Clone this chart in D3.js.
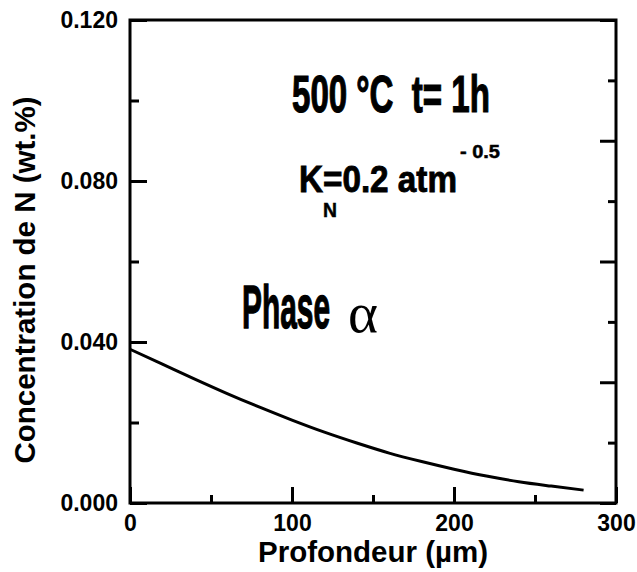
<!DOCTYPE html>
<html>
<head>
<meta charset="utf-8">
<script src="https://cdn.jsdelivr.net/npm/d3@7"></script>
<style>
  html, body { margin: 0; padding: 0; background: #fff; }
  svg { display: block; }
</style>
</head>
<body>
<svg id="chart" width="637" height="572"></svg>
<script>
// Nitrogen profile: depth (µm) vs concentration (wt.%)
const depth = [0, 20, 40, 60, 80, 100, 120, 140, 160, 180, 200, 220, 240, 260, 280];
const concentration = [0.0382, 0.0345, 0.0308, 0.0272, 0.0238, 0.0206, 0.0176, 0.0149,
                       0.0124, 0.0103, 0.0084, 0.0067, 0.0053, 0.0042, 0.0032];

const xMajorTicks = [0, 100, 200, 300];
const xMinorTicks = [50, 150, 250];
const yMajorTicks = [0, 0.04, 0.08, 0.12];
const yMinorTicks = [0.02, 0.06, 0.10];
const rightMajorTicks = [0, 0.03, 0.06, 0.09, 0.12];
const rightMinorTicks = [0.015, 0.045, 0.075, 0.105];

const SANS = "'Liberation Sans', Arial, sans-serif";
const svg = d3.select("#chart");
const m = { left: 130, top: 20, right: 616, bottom: 503 };

const x = d3.scaleLinear().domain([0, 300]).range([m.left, m.right]);
const y = d3.scaleLinear().domain([0, 0.12]).range([m.bottom, m.top]);

const axisStroke = 3;

function styleAxis(g) {
  g.selectAll("path.domain").remove();
  g.selectAll(".tick line").attr("stroke", "#000").attr("stroke-width", axisStroke);
  g.selectAll(".tick text")
    .style("font-family", SANS).style("font-weight", "bold")
    .style("font-size", "23px").attr("fill", "#000");
}

// bottom axis (ticks pointing inward)
svg.append("g").attr("transform", `translate(0,${m.bottom})`)
  .call(d3.axisBottom(x).tickValues(xMajorTicks).tickSize(-16).tickPadding(28)
        .tickFormat(d3.format("d")))
  .call(styleAxis)
  .call(g => g.selectAll(".tick text").attr("dy", "0"));
svg.append("g").attr("transform", `translate(0,${m.bottom})`)
  .call(d3.axisBottom(x).tickValues(xMinorTicks).tickSize(-8).tickFormat(""))
  .call(styleAxis);

// left axis
svg.append("g").attr("transform", `translate(${m.left},0)`)
  .call(d3.axisLeft(y).tickValues(yMajorTicks).tickSize(-17).tickPadding(12)
        .tickFormat(d3.format(".3f")))
  .call(styleAxis);
svg.append("g").attr("transform", `translate(${m.left},0)`)
  .call(d3.axisLeft(y).tickValues(yMinorTicks).tickSize(-9).tickFormat(""))
  .call(styleAxis);

// right axis (unlabelled)
svg.append("g").attr("transform", `translate(${m.right},0)`)
  .call(d3.axisRight(y).tickValues(rightMajorTicks).tickSize(-16).tickFormat(""))
  .call(styleAxis);
svg.append("g").attr("transform", `translate(${m.right},0)`)
  .call(d3.axisRight(y).tickValues(rightMinorTicks).tickSize(-8).tickFormat(""))
  .call(styleAxis);

// frame
svg.append("rect")
  .attr("x", m.left).attr("y", m.top)
  .attr("width", m.right - m.left).attr("height", m.bottom - m.top)
  .attr("fill", "none").attr("stroke", "#000").attr("stroke-width", axisStroke);

// profile curve
const line = d3.line().x((d, i) => x(depth[i])).y(d => y(d)).curve(d3.curveMonotoneX);
svg.append("path")
  .attr("d", line(concentration))
  .attr("fill", "none").attr("stroke", "#000").attr("stroke-width", 3);

// axis titles
function boldText(sel, size) {
  return sel.style("font-family", SANS).style("font-weight", "bold")
    .style("font-size", size + "px").attr("fill", "#000");
}
boldText(svg.append("text")
  .attr("x", (m.left + m.right) / 2).attr("y", 562)
  .attr("text-anchor", "middle"), 29.5)
  .text("Profondeur (µm)");

boldText(svg.append("text")
  .attr("transform", "translate(35,280) rotate(-90)")
  .attr("text-anchor", "middle"), 29.5)
  .text("Concentration de N (wt.%)");

// annotations in condensed heavy type: squeeze each label horizontally to its width
function narrow(txt, xPos, yPos, size, width, weight) {
  const t = boldText(svg.append("text").style("white-space", "pre"), size)
    .attr("stroke", "#000").attr("stroke-width", weight)
    .text(txt);
  const natural = t.node().getComputedTextLength();
  const sx = width / natural;
  t.attr("transform", `translate(${xPos},${yPos}) scale(${sx},1)`);
  return t;
}
narrow("500 °C  t= 1h", 292, 112, 51, 198, 1.2);
narrow("K=0.2 atm", 299, 192, 37.5, 158, 0.9);
narrow("N", 323, 217, 21, 14, 0.5);
narrow("- 0.5", 460, 158, 18, 40, 0.5);
narrow("Phase", 242, 328, 62, 88, 1.3);

const alpha = svg.append("text")
  .style("font-family", "'Liberation Serif', serif")
  .style("font-weight", "normal").style("font-size", "56px")
  .attr("fill", "#000")
  .text("α");
const aw = alpha.node().getComputedTextLength();
alpha.attr("transform", `translate(348,332) scale(${30 / aw},1)`);
</script>
</body>
</html>
